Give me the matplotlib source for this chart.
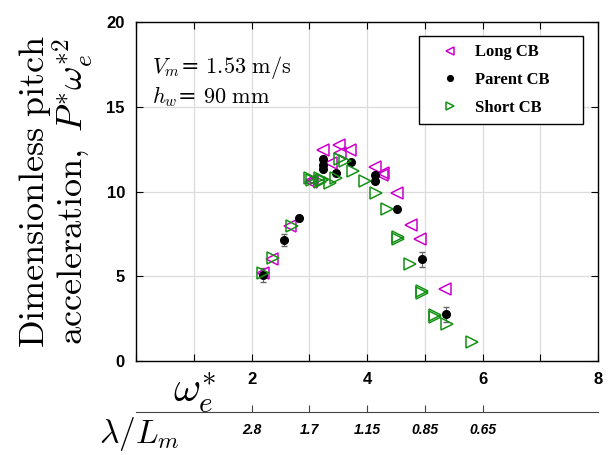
import numpy as np
import matplotlib
matplotlib.use('Agg')
import matplotlib.pyplot as plt

plt.rcParams['mathtext.fontset'] = 'cm'

# Long CB (magenta, left triangles)
long_x = [2.19, 2.35, 2.67, 3.03, 3.04, 3.23, 3.37, 3.52, 3.54, 3.71, 4.13, 4.26, 4.28, 4.51, 4.76, 4.92, 5.35]
long_y = [5.17, 6.00, 7.96, 10.58, 10.65, 12.45, 11.70, 12.74, 12.30, 12.45, 11.46, 10.95, 11.07, 9.93, 8.02, 7.20, 4.23]

# Parent CB (black circles, with error bars)
parent_x = [2.19, 2.56, 2.82, 3.23, 3.23, 3.23, 3.46, 3.73, 4.13, 4.13, 4.51, 4.95, 5.37]
parent_y = [5.07, 7.14, 8.42, 11.92, 11.56, 11.31, 11.11, 11.72, 10.97, 10.62, 8.97, 6.00, 2.75]
parent_err = [0.40, 0.35, 0.15, 0.15, 0.12, 0.12, 0.12, 0.12, 0.12, 0.12, 0.12, 0.43, 0.42]

# Short CB (green, right triangles)
short_x = [2.20, 2.38, 2.70, 3.01, 3.04, 3.19, 3.19, 3.22, 3.36, 3.47, 3.54, 3.62, 3.75, 3.97,
           4.15, 4.35, 4.53, 4.54, 4.74, 4.95, 4.95, 5.17, 5.17, 5.38, 5.82]
short_y = [5.17, 6.06, 7.96, 10.78, 10.68, 10.78, 10.58, 10.68, 10.52, 10.78, 11.89, 11.80, 11.21, 10.62,
           9.93, 8.97, 7.33, 7.20, 5.72, 4.15, 3.99, 2.71, 2.62, 2.18, 1.10]

x_ticks = [0, 1, 2, 3, 4, 5, 6, 7, 8]
x_labels = ['', '', '2', '', '4', '', '6', '', '8']
y_ticks = [0, 5, 10, 15, 20]
lam_ticks = [2, 3, 4, 5, 6]
lam_labels = ['2.8', '1.7', '1.15', '0.85', '0.65']

magenta = '#cc00cc'
green = '#159015'

fig = plt.figure(figsize=(6.08, 4.55), dpi=100)
ax = fig.add_axes([0.2237, 0.2066, 0.760, 0.745])

ax.errorbar(parent_x, parent_y, yerr=parent_err, fmt='none', ecolor='#666666',
            elinewidth=0.8, capsize=2.5, zorder=2)
ax.plot(long_x, long_y, '<', mfc='none', mec=magenta, ms=8, mew=1.1, ls='none',
        label='Long CB', zorder=3)
ax.plot(parent_x, parent_y, 'o', color='black', ms=5.5, ls='none', label='Parent CB', zorder=4)
ax.plot(short_x, short_y, '>', mfc='none', mec=green, ms=8, mew=1.1, ls='none',
        label='Short CB', zorder=5)

ax.set_xlim(0, 8)
ax.set_ylim(0, 20)
ax.set_xticks(x_ticks)
ax.set_xticklabels(x_labels)
ax.set_yticks(y_ticks)
ax.grid(True, color='#dcdcdc', lw=0.9)
ax.set_axisbelow(True)
ax.tick_params(direction='in', top=True, right=True, length=5, width=0.8, pad=8,
               labelsize=12)
for lab in ax.get_xticklabels() + ax.get_yticklabels():
    lab.set_fontfamily('Liberation Sans')
    lab.set_fontweight('bold')
for sp in ax.spines.values():
    sp.set_linewidth(1.0)

ax.set_ylabel('$\\mathrm{Dimensionless\\ pitch}$\n$\\mathrm{acceleration,}\\ P^{*}\\omega_e^{*2}$',
              fontsize=26, linespacing=0.95, labelpad=8)

ax.text(0.035, 0.905, '$V_m$= $\\mathrm{1.53\\ m/s}$\n$h_w$= $\\mathrm{90\\ mm}$',
        transform=ax.transAxes, fontsize=16, va='top', ha='left', linespacing=1.15)

leg = ax.legend(loc='upper left', bbox_to_anchor=(0.6126, 0.699, 0.355, 0.2597),
                mode='expand', fancybox=False,
                edgecolor='black', framealpha=1, borderpad=0.5, labelspacing=0.7,
                handlelength=2.7, handletextpad=0.15, borderaxespad=0, markerscale=0.75,
                prop={'family': 'Liberation Serif', 'weight': 'bold', 'size': 12})
leg.get_frame().set_linewidth(1.0)

# secondary wavelength axis
ax2 = fig.add_axes([0.2237, 0.0945, 0.760, 0.0001])
ax2.set_xlim(0, 8)
ax2.set_yticks([])
for s in ['top', 'left', 'right']:
    ax2.spines[s].set_visible(False)
ax2.spines['bottom'].set_color('#444444')
ax2.set_xticks(lam_ticks)
ax2.set_xticklabels(lam_labels)
ax2.tick_params(axis='x', direction='in', length=5, width=0.8, color='#444444', pad=8,
                labelsize=10)
for lab in ax2.get_xticklabels():
    lab.set_fontfamily('Liberation Sans')
    lab.set_fontweight('bold')
    lab.set_fontstyle('italic')

fig.text(0.32, 0.136, '$\\omega_e^{*}$', fontsize=30, ha='center', va='center')
fig.text(0.229, 0.046, '$\\lambda/L_m$', fontsize=24, ha='center', va='center')

fig.savefig('out.png', dpi=100)
